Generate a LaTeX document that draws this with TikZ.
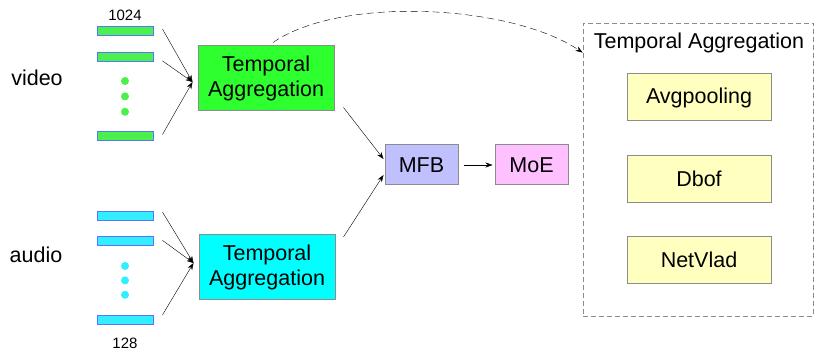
\documentclass[tikz,border=0pt]{standalone}
\usepackage{fontspec}
\setmainfont{Liberation Sans}
\usetikzlibrary{calc,positioning,arrows.meta}

\definecolor{vidgreen}{HTML}{2EFF2E}
\definecolor{vidbar}{HTML}{4CF04C}
\definecolor{audcyan}{HTML}{00FFFF}
\definecolor{audbar}{HTML}{33EEFF}
\definecolor{barline}{HTML}{5577FF}
\definecolor{boxline}{HTML}{8C8C8C}
\definecolor{mfbfill}{HTML}{C0C0FF}
\definecolor{moefill}{HTML}{FFC0FF}
\definecolor{algofill}{HTML}{FFFFC0}

\begin{document}
\begin{tikzpicture}[x=1pt, y=1pt, >={Stealth[length=7pt,width=5pt]},
    font=\fontsize{21.5}{25}\selectfont,
    aggbox/.style={draw=boxline, line width=1pt, minimum width=136pt, minimum height=65pt, inner sep=0pt, align=center},
    smallbox/.style={draw=boxline, line width=1pt, minimum width=73pt, minimum height=40pt, inner sep=0pt},
    algobox/.style={draw=boxline, line width=1pt, fill=algofill, minimum width=144pt, minimum height=47pt, inner sep=0pt},
    featbar/.style={draw=barline, line width=0.9pt, minimum width=56pt, minimum height=9pt, inner sep=0pt},
    featdot/.style={circle, minimum size=8pt, inner sep=0pt}]
    \useasboundingbox (0,0) rectangle (814,352);

    \node (video)  at (37,274)  {video};
    \node (audio)  at (36,97)   {audio};

    \node (vbar1) at (125,321)   [featbar, fill=vidbar] {};
    \node (vbar2) [featbar, fill=vidbar, below=16pt of vbar1] {};
    \node (vdot1) at (125,271)   [featdot, fill=vidbar] {};
    \node (vdot2) [featdot, fill=vidbar, below=7pt of vdot1] {};
    \node (vdot3) [featdot, fill=vidbar, below=7pt of vdot2] {};
    \node (vbar3) at (125,216.5) [featbar, fill=vidbar] {};
    \node (vdim)  at (125,337)   {\fontsize{15}{17}\selectfont 1024};

    \node (abar1) at (125,136)   [featbar, fill=audbar] {};
    \node (abar2) [featbar, fill=audbar, below=15.5pt of abar1] {};
    \node (adot1) at (125,86)    [featdot, fill=audbar] {};
    \node (adot2) [featdot, fill=audbar, below=6pt of adot1] {};
    \node (adot3) [featdot, fill=audbar, below=6pt of adot2] {};
    \node (abar3) at (125,32)    [featbar, fill=audbar] {};
    \node (adim)  at (125,9)     {\fontsize{15}{17}\selectfont 128};

    \node (tva) at (266,273.5) [aggbox, fill=vidgreen] {Temporal\\Aggregation};
    \node (taa) at (267,85)    [aggbox, fill=audcyan]  {Temporal\\Aggregation};

    \node (mfb) at (421.5,187) [smallbox, fill=mfbfill] {MFB};
    \node (moe) [smallbox, fill=moefill, right=36pt of mfb] {MoE};

    \node (tabox) at (698.25,182.5) [draw=boxline, line width=0.9pt, dash pattern=on 5pt off 3pt, minimum width=230.5pt, minimum height=293pt] {};
    \node (tatitle) at (699,309) {Temporal Aggregation};
    \node (avg)  at (699,254.5) [algobox] {Avgpooling};
    \node (dbof) [algobox, below=33.5pt of avg]  {Dbof};
    \node (vlad) [algobox, below=33pt of dbof]   {NetVlad};

    \coordinate (vin)   at ($(tva.west)+(-5,-3.5)$);
    \coordinate (ain)   at ($(taa.west)+(-5,4)$);
    \coordinate (vout)  at ($(tva.south east)+(9,4)$);
    \coordinate (aout)  at ($(taa.north east)+(8,-3)$);
    \coordinate (mfbin1) at ($(mfb.west)+(-1,6)$);
    \coordinate (mfbin2) at ($(mfb.west)+(-1,-10)$);
    \coordinate (arcstart) at ($(tva.north)+(7,3)$);
    \coordinate (arcend)   at ($(tabox.north west)+(0,-30)$);

    \draw[->] ($(vbar1.east)+(9,2)$)  -- (vin);
    \draw[->] ($(vbar2.east)+(9,-4)$) -- (vin);
    \draw[->] ($(vbar3.east)+(9,1)$)  -- (vin);
    \draw[->] ($(abar1.east)+(9,4)$)  -- (ain);
    \draw[->] ($(abar2.east)+(9,1)$)  -- (ain);
    \draw[->] ($(abar3.east)+(9,5)$)  -- (ain);

    \draw[->] (vout) -- (mfbin1);
    \draw[->] (aout) -- (mfbin2);
    \draw[->] (mfb) edge[shorten <=5pt, shorten >=2pt] (moe);

    \draw[->, dash pattern=on 7pt off 4pt] (arcstart) .. controls (340,356) and (510,348) .. (arcend);
\end{tikzpicture}
\end{document}
